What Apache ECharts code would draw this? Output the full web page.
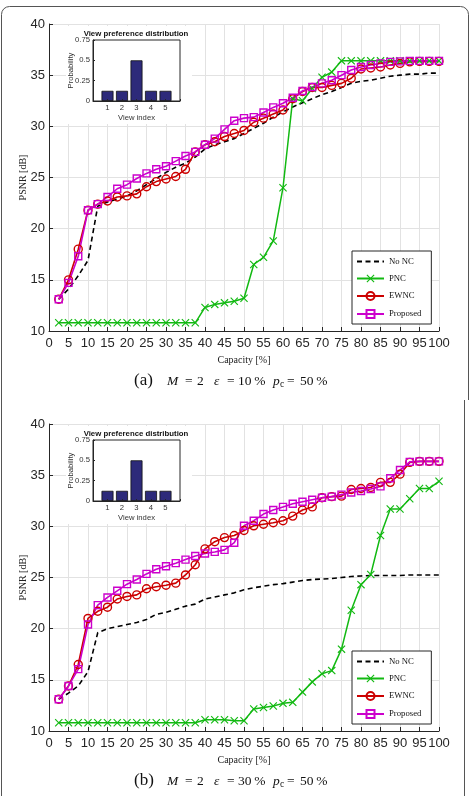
<!DOCTYPE html>
<html>
<head>
<meta charset="utf-8">
<script src="https://cdn.jsdelivr.net/npm/echarts@6/dist/echarts.min.js"></script>
<style>
  html, body { margin: 0; padding: 0; background: #fff; }
  #chart { width: 472px; height: 796px; }
</style>
</head>
<body>
<div id="chart"></div>
<script>
// capacity in %, one point every 2.5
const capacity = [2.5, 5, 7.5, 10, 12.5, 15, 17.5, 20, 22.5, 25, 27.5, 30, 32.5, 35, 37.5, 40,
  42.5, 45, 47.5, 50, 52.5, 55, 57.5, 60, 62.5, 65, 67.5, 70, 72.5, 75, 77.5, 80, 82.5, 85,
  87.5, 90, 92.5, 95, 97.5, 100];

// (a) eps = 10 %
const noNcA = [13.1, 14.1, 15.4, 16.9, 22.2, 22.6, 22.9, 23.2, 23.7, 24.3, 24.9, 25.5, 26.0, 26.4,
  27.0, 27.8, 28.2, 28.5, 28.8, 29.3, 29.8, 30.3, 30.9, 31.4, 31.9, 32.3, 32.7, 33.1, 33.4, 33.8,
  34.2, 34.4, 34.5, 34.7, 34.9, 35.0, 35.1, 35.1, 35.2, 35.2];
const pncA = [10.8, 10.8, 10.8, 10.8, 10.8, 10.8, 10.8, 10.8, 10.8, 10.8, 10.8, 10.8, 10.8, 10.8,
  10.8, 12.3, 12.6, 12.75, 12.9, 13.2, 16.5, 17.2, 18.8, 24.0, 32.7, 32.5, 33.7, 34.8, 35.3, 36.4,
  36.4, 36.4, 36.4, 36.4, 36.4, 36.4, 36.4, 36.4, 36.4, 36.4];
const ewncA = [13.1, 15.0, 18.0, 21.8, 22.4, 22.7, 23.1, 23.2, 23.4, 24.1, 24.6, 24.85, 25.1, 25.8,
  27.5, 28.2, 28.5, 29.0, 29.3, 29.6, 30.4, 30.8, 31.2, 31.6, 32.7, 33.4, 33.8, 33.8, 34.0, 34.2,
  34.7, 35.6, 35.7, 35.8, 36.0, 36.15, 36.3, 36.35, 36.35, 36.35];
const propA = [13.1, 14.7, 17.3, 21.8, 22.4, 23.1, 23.9, 24.3, 24.9, 25.4, 25.8, 26.1, 26.6, 27.1,
  27.5, 28.2, 28.8, 29.7, 30.55, 30.8, 30.9, 31.35, 31.85, 32.25, 32.8, 33.45, 33.85, 34.2, 34.5,
  35.0, 35.5, 35.8, 36.0, 36.15, 36.3, 36.35, 36.4, 36.4, 36.4, 36.4];

// (b) eps = 30 %
const noNcB = [13.1, 13.7, 14.4, 15.8, 19.6, 20.0, 20.2, 20.4, 20.6, 20.9, 21.4, 21.6, 21.9, 22.2,
  22.4, 22.9, 23.1, 23.3, 23.5, 23.8, 24.0, 24.15, 24.3, 24.4, 24.55, 24.7, 24.8, 24.85, 24.9,
  25.0, 25.1, 25.15, 25.2, 25.2, 25.2, 25.2, 25.25, 25.25, 25.25, 25.25];
const pncB = [10.8, 10.8, 10.8, 10.8, 10.8, 10.8, 10.8, 10.8, 10.8, 10.8, 10.8, 10.8, 10.8, 10.8,
  10.8, 11.1, 11.1, 11.1, 11.0, 11.0, 12.15, 12.3, 12.45, 12.7, 12.8, 13.8, 14.8, 15.6, 15.9, 18.0,
  21.8, 24.3, 25.3, 29.1, 31.7, 31.7, 32.7, 33.7, 33.7, 34.4];
const ewncB = [13.1, 14.4, 16.5, 21.0, 21.7, 22.1, 22.9, 23.15, 23.3, 23.9, 24.1, 24.25, 24.45,
  25.25, 26.25, 27.8, 28.5, 28.9, 29.1, 29.6, 30.05, 30.2, 30.35, 30.55, 31.0, 31.6, 31.9, 32.8,
  32.9, 32.95, 33.6, 33.7, 33.8, 34.3, 34.3, 35.1, 36.25, 36.35, 36.35, 36.35];
const propB = [13.1, 14.4, 16.05, 20.4, 22.3, 23.05, 23.7, 24.35, 24.8, 25.35, 25.8, 26.1, 26.4,
  26.75, 27.1, 27.35, 27.5, 27.7, 28.4, 30.05, 30.55, 31.2, 31.6, 31.9, 32.2, 32.4, 32.6, 32.8,
  32.9, 33.1, 33.3, 33.45, 33.65, 33.9, 34.7, 35.5, 36.3, 36.35, 36.35, 36.35];

// inset: view preference distribution
const viewIndex = [1, 2, 3, 4, 5];
const viewProb = [0.125, 0.125, 0.5, 0.125, 0.125];

const seriesNames = ["No NC", "PNC", "EWNC", "Proposed"];

const SERIF = '"Liberation Serif", "Times New Roman", serif';
const SANS = '"Liberation Sans", Arial, Helvetica, sans-serif';
const AX = "#262626";
const GREEN = "#12b912";
const RED = "#cc0000";
const MAG = "#cc00cc";
const NAVY = "#2d2a7a";
const X_MARK = "path://M0,1L1,0L5,4L9,0L10,1L6,5L10,9L9,10L5,6L1,10L0,9L4,5Z";

function pairs(arr) {
  return capacity.map((c, i) => [c, arr[i]]);
}

function mainX(gi) {
  return {
    gridIndex: gi, type: "value", min: 0, max: 100, interval: 5,
    name: "Capacity [%]", nameLocation: "middle", nameGap: 24, nameMoveOverlap: false,
    nameTextStyle: { fontFamily: SERIF, fontSize: 10, color: "#222" },
    axisLine: { show: true, onZero: false, lineStyle: { color: AX, width: 1 } },
    axisTick: { show: true, inside: true, length: 4, lineStyle: { color: AX } },
    axisLabel: { fontFamily: SANS, fontSize: 13, color: AX, margin: 6 },
    splitLine: { show: true, lineStyle: { color: "#e2e2e2", width: 1 } },
  };
}

function mainY(gi) {
  return {
    gridIndex: gi, type: "value", min: 10, max: 40, interval: 5,
    name: "PSNR [dB]", nameLocation: "middle", nameGap: 21, nameMoveOverlap: false,
    nameTextStyle: { fontFamily: SERIF, fontSize: 10, color: "#222" },
    axisLine: { show: true, onZero: false, lineStyle: { color: AX, width: 1 } },
    axisTick: { show: true, inside: true, length: 4, lineStyle: { color: AX } },
    axisLabel: { fontFamily: SANS, fontSize: 13, color: AX, margin: 4 },
    splitLine: { show: true, lineStyle: { color: "#e2e2e2", width: 1 } },
  };
}

function insetX(gi) {
  return {
    gridIndex: gi, type: "value", min: 0, max: 6, interval: 1, z: 5,
    name: "View index", nameLocation: "middle", nameGap: 13, nameMoveOverlap: false,
    nameTextStyle: { fontFamily: SANS, fontSize: 7.7, color: "#333" },
    axisLine: { show: true, onZero: false, lineStyle: { color: AX, width: 1 } },
    axisTick: { show: true, inside: true, length: 2, lineStyle: { color: AX } },
    axisLabel: {
      fontFamily: SANS, fontSize: 7.7, color: "#333", margin: 3,
      formatter: (v) => (viewIndex.indexOf(v) >= 0 ? String(v) : ""),
    },
    splitLine: { show: false },
  };
}

function insetY(gi) {
  return {
    gridIndex: gi, type: "value", min: 0, max: 0.75, interval: 0.25, z: 5,
    name: "Probability", nameLocation: "middle", nameGap: 18, nameMoveOverlap: false,
    nameTextStyle: { fontFamily: SANS, fontSize: 7.7, color: "#333" },
    axisLine: { show: true, onZero: false, lineStyle: { color: AX, width: 1 } },
    axisTick: { show: true, inside: true, length: 2, lineStyle: { color: AX } },
    axisLabel: { fontFamily: SANS, fontSize: 7.7, color: "#333", margin: 3 },
    splitLine: { show: false },
  };
}

function lineSeries(gi, noNc, pnc, ewnc, prop) {
  const base = { type: "line", xAxisIndex: gi, yAxisIndex: gi, animation: false, z: 2 };
  return [
    Object.assign({}, base, {
      name: "No NC", data: pairs(noNc), symbol: "none",
      lineStyle: { color: "#000", width: 1.6, type: [5, 3.5] },
      itemStyle: { color: "#000" },
    }),
    Object.assign({}, base, {
      name: "PNC", data: pairs(pnc), symbol: X_MARK, symbolSize: 8,
      lineStyle: { color: GREEN, width: 1.5 },
      itemStyle: { color: GREEN },
    }),
    Object.assign({}, base, {
      name: "EWNC", data: pairs(ewnc), symbol: "circle", symbolSize: 8,
      lineStyle: { color: RED, width: 1.6 },
      itemStyle: { color: "rgba(0,0,0,0)", borderColor: RED, borderWidth: 1.4 },
    }),
    Object.assign({}, base, {
      name: "Proposed", data: pairs(prop), symbol: "rect", symbolSize: 7,
      lineStyle: { color: MAG, width: 1.6 },
      itemStyle: { color: "rgba(0,0,0,0)", borderColor: MAG, borderWidth: 1.4 },
    }),
  ];
}

function insetBars(gi) {
  return {
    type: "bar", xAxisIndex: gi, yAxisIndex: gi, z: 5, animation: false,
    data: viewIndex.map((v, i) => [v, viewProb[i]]),
    barWidth: 12,
    itemStyle: { color: NAVY, borderColor: "#111", borderWidth: 0.8 },
  };
}

function legendAt(top) {
  return {
    orient: "vertical", left: 352, top: top,
    itemWidth: 27, itemHeight: 10, itemGap: 8,
    padding: [6, 10, 5, 4],
    borderColor: AX, borderWidth: 1, backgroundColor: "#fff",
    textStyle: { fontFamily: SERIF, fontSize: 8.7, color: "#111" },
    selectedMode: false,
    data: seriesNames.map((n) => (n === "No NC"
      ? { name: n, itemStyle: { color: "rgba(0,0,0,0)", borderColor: "rgba(0,0,0,0)", borderWidth: 0, opacity: 0 } }
      : n)),
  };
}

function txt(x, y, text, size, extra) {
  return {
    type: "text", x: x, y: y, z: 6,
    style: Object.assign({
      text: text, fontFamily: SERIF, fontSize: size, fill: "#111",
      align: "left", verticalAlign: "middle",
    }, extra || {}),
  };
}

function panelDeco(dy, letter, eps) {
  const cy = 381 + dy;
  return [
    // white backing behind the inset figure
    { type: "rect", z: 3, shape: { x: 66, y: 26 + dy, width: 126, height: 98 }, style: { fill: "#fff" } },
    txt(136, 33.5 + dy, "View preference distribution", 7.8,
      { fontFamily: SANS, fontWeight: "bold", align: "center", fill: "#111" }),
    // caption
    txt(134, cy, "(" + letter + ")", 17),
    txt(167, cy, "M", 13.5, { fontStyle: "italic" }),
    txt(185, cy, "=", 13.5),
    txt(197, cy, "2", 13.5),
    txt(214, cy, "\u03b5", 13.5, { fontStyle: "italic" }),
    txt(227, cy, "=", 13.5),
    txt(238, cy, eps + "\u2009%", 13.5),
    txt(273, cy, "p", 13.5, { fontStyle: "italic" }),
    txt(280, cy + 3, "c", 9.5),
    txt(287, cy, "=", 13.5),
    txt(300, cy, "50\u2009%", 13.5),
  ];
}

const frameStyle = { fill: null, stroke: "#555", lineWidth: 1 };
const frames = [
  {
    type: "polyline", z: 1, style: frameStyle,
    shape: { points: [[1.5, 400], [1.5, 14.5], [2.1, 11.4], [3.8, 8.8], [6.4, 7.1], [9.5, 6.5],
      [460.5, 6.5], [463.6, 7.1], [466.2, 8.8], [467.9, 11.4], [468.5, 14.5], [468.5, 400]] },
  },
  { type: "polyline", z: 1, style: frameStyle, shape: { points: [[1.5, 400], [1.5, 796]] } },
  { type: "polyline", z: 1, style: frameStyle, shape: { points: [[464.5, 400], [464.5, 796]] } },
];

const chart = echarts.init(document.getElementById("chart"), null, { renderer: "canvas" });
chart.setOption({
  animation: false,
  backgroundColor: "#fff",
  grid: [
    { left: 49, top: 24, width: 390, height: 307 },
    { left: 93, top: 40, width: 87, height: 61, show: true, z: 4,
      borderColor: AX, borderWidth: 1, backgroundColor: "#fff" },
    { left: 49, top: 424, width: 390, height: 307 },
    { left: 93, top: 440, width: 87, height: 61, show: true, z: 4,
      borderColor: AX, borderWidth: 1, backgroundColor: "#fff" },
  ],
  xAxis: [mainX(0), insetX(1), mainX(2), insetX(3)],
  yAxis: [mainY(0), insetY(1), mainY(2), insetY(3)],
  legend: [legendAt(251), legendAt(651)],
  series: []
    .concat(lineSeries(0, noNcA, pncA, ewncA, propA))
    .concat([insetBars(1)])
    .concat(lineSeries(2, noNcB, pncB, ewncB, propB))
    .concat([insetBars(3)]),
  graphic: {
    elements: frames.concat(panelDeco(0, "a", "10")).concat(panelDeco(400, "b", "30")),
  },
});
</script>
</body>
</html>
